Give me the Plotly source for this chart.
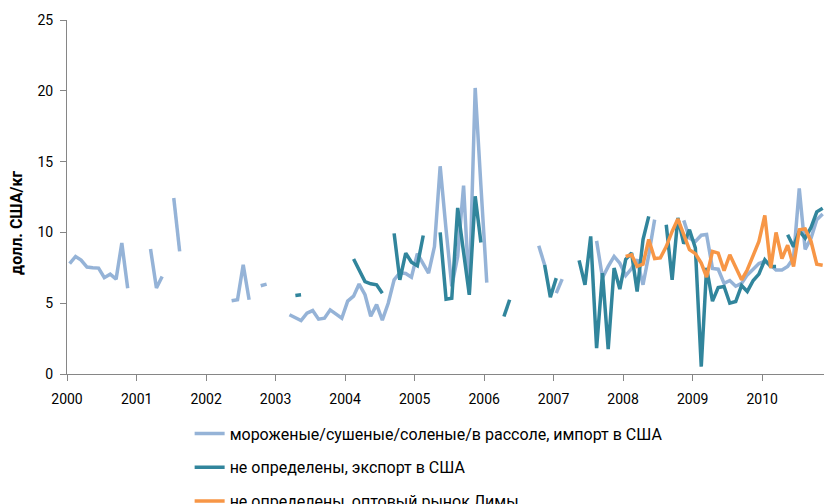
import plotly.graph_objects as go

# Monthly observations, January 2000 through November 2010
years = list(range(2000, 2011))
months = [f"{y}-{mo:02d}-15" for y in years for mo in range(1, 13)][:131]

# Frozen/dried/salted/brined, US imports (USD/kg)
import_us = [
    7.8, 8.3, 8.05, 7.55, 7.5, 7.48, 6.8, 7.05, 6.7, 9.25, 6.05, None,
    None, None, 8.82, 6.07, 6.89, None, 12.43, 8.66, None, None, None, None,
    None, None, None, None, 5.17, 5.24, 7.71, 5.24, None, 6.23, 6.35, None,
    None, None, 4.18, 3.95, 3.77, 4.29, 4.48, 3.87, 3.94, 4.53, 4.2, 3.94,
    5.15, 5.5, 6.35, 5.6, 4.08, 4.9, 3.8, 5.0, 6.65, 7.15, 7.1, 6.84,
    8.5, 7.8, 7.12, 9.0, 14.67, 10.2, 6.2, 8.3, 13.3, 5.7, 20.2, 13.3,
    6.46, None, None, None, None, None, None, None, None, 9.06, 7.7, None,
    5.71, 6.7, None, None, None, None, None, 9.4, 6.8, 7.6, 8.3, 7.83,
    6.95, 7.45, 8.1, 6.3, 8.4, 10.9, None, None, None, None, 10.85, 9.6,
    9.36, 9.8, 9.85, 7.45, 7.4, 6.4, 6.6, 6.2, 6.4, 7.0, 7.4, 7.8,
    7.95, 7.7, 7.35, 7.35, 7.6, 8.2, 13.1, 8.8, 9.6, 10.9, 11.3,
]

# Unspecified, exports to the US (USD/kg)
export_us = [None] * 39 + [
    5.55, 5.6, None, None, None, None, None, None, None,
    None, 8.12, 7.36, 6.53, 6.37, 6.3, 5.71, None, 9.93, 6.65, 8.54, 7.9,
    7.65, 9.78, None, None, 10.0, 5.28, 5.35, 11.73, 8.6, 5.59, 12.55, 9.29,
    None, None, None, 4.06, 5.24, None, None, None, None, None, 7.71, 5.43,
    6.77, None, None, None, 8.02, 6.3, 9.72, 1.82, 7.12, 1.75, 7.48, 6.0,
    8.1, 8.54, 5.83, 9.5, 11.13, None, None, 10.54, 6.65, 11.02, 9.2, 10.19,
    8.9, 0.52, 7.5, 5.15, 6.1, 6.18, 5.0, 5.12, 6.25, 5.83, 6.6, 7.05,
    8.07, 7.59, 7.59, None, 9.84, 8.98, 10.1, 9.6, 10.35, 11.45, 11.7,
]

# Unspecified, Lima wholesale market (USD/kg)
lima_wholesale = [None] * 96 + [
    8.3, 8.42, 7.6, 7.75, 9.5, 8.15, 8.2, 9.0, 10.07, 10.95, 9.84, 8.78,
    8.5, 7.83, 6.85, 8.66, 8.54, 7.3, 8.42, 7.48, 6.65, 7.36, 8.45, 9.36,
    11.2, 7.48, 10.0, 8.15, 9.1, 7.59, 10.19, 10.25, 9.36, 7.75, 7.68,
]

series_names = [
    "мороженые/сушеные/соленые/в рассоле, импорт в США",
    "не определены, экспорт в США",
    "не определены, оптовый рынок Лимы",
]
series_colors = ["#95B3D7", "#31859C", "#F79646"]
year_ticks = [f"{y}-01-01" for y in years]
year_labels = [str(y) for y in years]
y_title = "долл. США/кг"

FONT = "Roboto, Arial, sans-serif"

fig = go.Figure()
for i, (name, vals, col) in enumerate(
    zip(series_names, [import_us, export_us, lima_wholesale], series_colors)
):
    fig.add_trace(
        go.Scatter(
            x=months,
            y=vals,
            name=name,
            mode="lines",
            line=dict(color=col, width=3.5),
            connectgaps=False,
            legendgroup=f"g{i}",
        )
    )

axis_color = "#868686"
fig.update_layout(
    width=824,
    height=504,
    margin=dict(l=67, r=0, t=20, b=130, autoexpand=False),
    paper_bgcolor="white",
    plot_bgcolor="white",
    font=dict(family=FONT, size=14, color="black"),
    showlegend=True,
    legend=dict(
        orientation="v",
        x=0.162,
        xanchor="left",
        y=-0.12,
        yanchor="top",
        tracegroupgap=10,
        font=dict(family=FONT, size=16, color="black"),
        bgcolor="rgba(0,0,0,0)",
    ),
    xaxis=dict(
        type="date",
        range=["2000-01-01", "2010-11-22"],
        tickmode="array",
        tickvals=year_ticks,
        ticktext=year_labels,
        ticks="outside",
        ticklen=6,
        tickcolor=axis_color,
        showline=True,
        linecolor=axis_color,
        linewidth=1,
        showgrid=False,
        zeroline=False,
        ticklabelstandoff=6,
        tickfont=dict(size=14),
    ),
    yaxis=dict(
        range=[0, 25],
        tickvals=[0, 5, 10, 15, 20, 25],
        ticks="outside",
        ticklen=6,
        tickcolor=axis_color,
        showline=True,
        linecolor=axis_color,
        linewidth=1,
        showgrid=False,
        zeroline=False,
        ticklabelstandoff=4,
        tickfont=dict(size=14),
        automargin=False,
    ),
    annotations=[
        dict(
            text=f"<b>{y_title}</b>",
            textangle=-90,
            xref="paper",
            yref="paper",
            x=-0.066,
            y=0.427,
            xanchor="center",
            yanchor="middle",
            showarrow=False,
            font=dict(family=FONT, size=16, color="black"),
        )
    ],
)

fig.write_html("out.html")
